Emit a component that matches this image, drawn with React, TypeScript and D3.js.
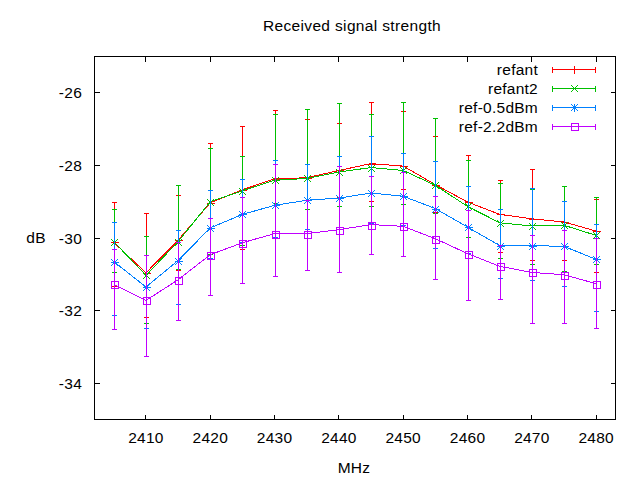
import React, { useEffect } from "react";
import * as d3 from "d3";

const freqs = [2405, 2410, 2415, 2420, 2425, 2430, 2435, 2440, 2445, 2450, 2455, 2460, 2465, 2470, 2475, 2480];

const refantVal = [-30.12, -30.96, -30.06, -29.03, -28.67, -28.37, -28.34, -28.14, -27.95, -28.02, -28.53, -29.01, -29.35, -29.47, -29.56, -29.81];
const refantHigh = [-29.01, -29.3, -28.81, -27.38, -26.91, -26.47, -26.71, -26.82, -26.26, -26.5, -27.19, -27.71, -28.39, -28.09, -28.57, -28.92];
const refantLow = [-31.33, -32.19, -30.87, -30.45, -30.3, -29.1, -29.19, -28.87, -28.99, -28.64, -29.29, -29.97, -30.39, -30.6, -30.6, -30.94];

const refant2Val = [-30.1, -31.03, -30.1, -29.0, -28.7, -28.41, -28.36, -28.18, -28.06, -28.14, -28.55, -29.13, -29.58, -29.67, -29.65, -29.93];
const refant2High = [-29.19, -29.95, -28.55, -27.51, -27.74, -26.58, -26.44, -26.27, -26.58, -26.26, -26.69, -27.84, -28.49, -28.64, -28.57, -28.87];
const refant2Low = [-30.94, -32.34, -30.85, -30.45, -30.2, -29.04, -29.2, -29.13, -29.13, -29.05, -29.3, -29.97, -30.54, -30.71, -30.91, -30.73];

const ref05Val = [-30.65, -31.35, -30.62, -29.72, -29.35, -29.1, -28.96, -28.9, -28.76, -28.85, -29.19, -29.7, -30.21, -30.21, -30.23, -30.59];
const ref05High = [-29.55, -30.46, -29.77, -28.67, -28.38, -27.84, -27.95, -27.73, -27.18, -27.65, -27.89, -28.56, -29.19, -28.62, -28.97, -29.61];
const ref05Low = [-32.13, -32.47, -31.83, -30.54, -30.1, -29.97, -29.74, -29.75, -29.6, -29.65, -30.27, -30.4, -31.09, -31.17, -31.31, -32.0];

const ref22Val = [-31.28, -31.72, -31.15, -30.46, -30.13, -29.88, -29.88, -29.77, -29.63, -29.68, -30.02, -30.43, -30.78, -30.95, -31.01, -31.26];
const ref22High = [-30.29, -30.46, -30.1, -29.44, -28.87, -27.95, -28.96, -28.01, -28.28, -28.18, -28.85, -29.22, -30.2, -29.91, -29.79, -30.0];
const ref22Low = [-32.52, -33.26, -32.25, -31.56, -31.23, -31.06, -30.87, -30.95, -30.45, -30.5, -31.12, -31.7, -31.67, -32.33, -32.33, -32.47];

const seriesNames = ["refant", "refant2", "ref-0.5dBm", "ref-2.2dBm"];
const seriesColors = ["#ff0000", "#00c000", "#0080ff", "#c000ff"];
const seriesMarkers = ["plus", "cross", "star", "square"];

const xTicks = [2410, 2420, 2430, 2440, 2450, 2460, 2470, 2480];
const yTicks = [-26, -28, -30, -32, -34];

const title = "Received signal strength";
const xLabel = "MHz";
const yLabel = "dB";

const W = 640;
const H = 480;
const L = 94.5;
const R = 615.5;
const T = 56.5;
const B = 419.5;
const FONT = "'Liberation Sans', Arial, sans-serif";
const FS = 15.5;
const LS = 0.25;

function Marker({ kind, x, y, color }: { kind: string; x: number; y: number; color: string }) {
  const s = 4;
  const d = 3.5;
  const parts: React.ReactNode[] = [];
  if (kind === "plus" || kind === "star") {
    parts.push(<line key="h" x1={x - s} x2={x + s} y1={y} y2={y} />);
    parts.push(<line key="v" x1={x} x2={x} y1={y - s} y2={y + s} />);
  }
  if (kind === "cross" || kind === "star") {
    parts.push(<line key="a" x1={x - d} x2={x + d} y1={y - d} y2={y + d} />);
    parts.push(<line key="b" x1={x - d} x2={x + d} y1={y + d} y2={y - d} />);
  }
  if (kind === "square") {
    parts.push(<rect key="r" x={x - 3.5} y={y - 3.5} width={7} height={7} fill="none" />);
  }
  return (
    <g stroke={color} strokeWidth={1} fill="none" shapeRendering="crispEdges">
      {parts}
    </g>
  );
}

export default function App() {
  useEffect(() => {
    document.body.style.margin = "0";
  }, []);

  const x = d3.scaleLinear().domain([2402, 2483]).range([L, R]);
  const y = d3.scaleLinear().domain([-35, -25]).range([B, T]);

  const vals = [refantVal, refant2Val, ref05Val, ref22Val];
  const highs = [refantHigh, refant2High, ref05High, ref22High];
  const lows = [refantLow, refant2Low, ref05Low, ref22Low];

  const line = d3
    .line<number>()
    .x((_, i) => x(freqs[i]))
    .y((v) => y(v));

  const legendRows = [69, 88, 107, 126];

  return (
    <svg width={W} height={H} style={{ display: "block", position: "absolute", left: 0, top: 0, background: "#fff" }}>
      <rect x={0} y={0} width={W} height={H} fill="#fff" />
      <text x={352} y={31} textAnchor="middle" fontFamily={FONT} fontSize={FS} letterSpacing={0.35} fill="#000">
        {title}
      </text>

      <g stroke="#000" strokeWidth={1} shapeRendering="crispEdges">
        {xTicks.map((t) => (
          <g key={t}>
            <line x1={x(t)} x2={x(t)} y1={B} y2={B - 5} />
            <line x1={x(t)} x2={x(t)} y1={T} y2={T + 5} />
          </g>
        ))}
        {yTicks.map((t) => (
          <g key={t}>
            <line x1={L} x2={L + 5} y1={y(t)} y2={y(t)} />
            <line x1={R} x2={R - 5} y1={y(t)} y2={y(t)} />
          </g>
        ))}
      </g>
      <g fontFamily={FONT} fontSize={FS} fill="#000" letterSpacing={LS}>
        {xTicks.map((t) => (
          <text key={t} x={x(t)} y={443} textAnchor="middle">
            {t}
          </text>
        ))}
        {yTicks.map((t) => (
          <text key={t} x={82} y={y(t) + 5.5} textAnchor="end">
            {t}
          </text>
        ))}
        <text x={36} y={243} textAnchor="middle">
          {yLabel}
        </text>
        <text x={354} y={473} textAnchor="middle">
          {xLabel}
        </text>
      </g>

      {vals.map((vs, si) => {
        const c = seriesColors[si];
        return (
          <g key={si}>
            <g stroke={c} strokeWidth={1} shapeRendering="crispEdges">
              {vs.map((_, i) => {
                const px = Math.round(x(freqs[i])) + 0.5;
                const yh = Math.round(y(highs[si][i])) + 0.5;
                const yl = Math.round(y(lows[si][i])) + 0.5;
                return (
                  <g key={i}>
                    <line x1={px} x2={px} y1={yh} y2={yl} />
                    <line x1={px - 2.5} x2={px + 2.5} y1={yh} y2={yh} />
                    <line x1={px - 2.5} x2={px + 2.5} y1={yl} y2={yl} />
                  </g>
                );
              })}
            </g>
            <path d={line(vs) || ""} fill="none" stroke={c} strokeWidth={1} shapeRendering="crispEdges" />
            {vs.map((v, i) => (
              <Marker key={i} kind={seriesMarkers[si]} x={Math.round(x(freqs[i])) + 0.5} y={Math.round(y(v)) + 0.5} color={c} />
            ))}
          </g>
        );
      })}

      {seriesNames.map((n, si) => {
        const ry = legendRows[si] + 0.5;
        const c = seriesColors[si];
        return (
          <g key={n}>
            <text x={538} y={ry + 5} textAnchor="end" fontFamily={FONT} fontSize={FS} letterSpacing={LS} fill="#000">
              {n}
            </text>
            <g stroke={c} strokeWidth={1} shapeRendering="crispEdges">
              <line x1={552} x2={596} y1={ry} y2={ry} />
              <line x1={552.5} x2={552.5} y1={ry - 3} y2={ry + 3} />
              <line x1={595.5} x2={595.5} y1={ry - 3} y2={ry + 3} />
            </g>
            <Marker kind={seriesMarkers[si]} x={574.5} y={ry} color={c} />
          </g>
        );
      })}

      <rect x={L} y={T} width={R - L} height={B - T} fill="none" stroke="#000" strokeWidth={1} shapeRendering="crispEdges" />
    </svg>
  );
}
